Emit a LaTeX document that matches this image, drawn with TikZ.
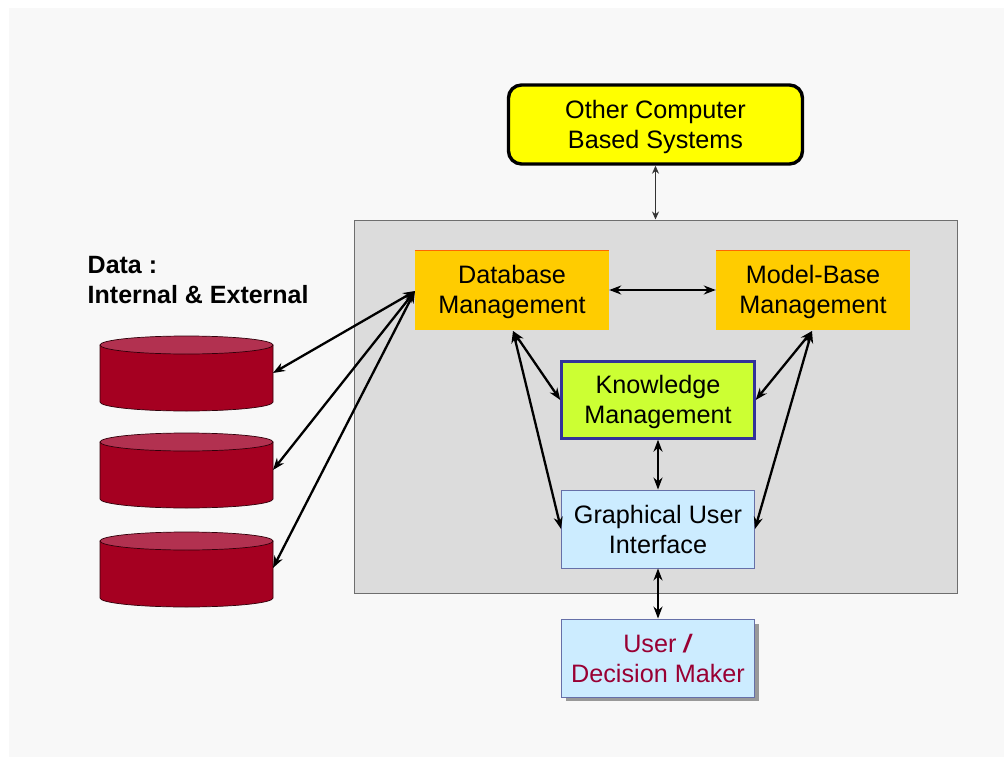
\documentclass[tikz,border=0pt]{standalone}
\usepackage{fontspec}
\setmainfont{Liberation Sans}
\usetikzlibrary{arrows.meta,shapes.geometric}
\definecolor{panel}{HTML}{F8F8F8}
\definecolor{inner}{HTML}{DCDCDC}
\definecolor{innerline}{HTML}{6E6E6E}
\definecolor{dbred}{HTML}{A50021}
\definecolor{dbtop}{HTML}{B23150}
\definecolor{orangebox}{HTML}{FFCC00}
\definecolor{limebox}{HTML}{CCFF33}
\definecolor{limeline}{HTML}{333399}
\definecolor{bluebox}{HTML}{CCECFF}
\definecolor{blueline}{HTML}{6670A8}
\definecolor{userred}{HTML}{990033}
\definecolor{yellowbox}{HTML}{FFFF00}
\newcommand{\topstrut}{\rule{0pt}{22.5pt}}
\tikzset{
  x=1pt,y=-1pt,
  lbl/.style={font=\fontsize{25.2}{30}\selectfont,align=center,text=black,inner sep=0pt},
  orangeb/.style={fill=orangebox,minimum width=194pt,minimum height=79pt,inner sep=0pt,draw=none},
  limeb/.style={fill=limebox,draw=limeline,line width=2.4pt,minimum width=193pt,minimum height=77pt,inner sep=0pt},
  blueb/.style={fill=bluebox,draw=blueline,line width=.9pt,minimum width=193pt,minimum height=78pt,inner sep=0pt},
  link/.style={{Stealth[length=12pt,width=9pt]}-{Stealth[length=12pt,width=9pt]},line width=2.3pt,black},
  thinlink/.style={{Stealth[length=8pt,width=7pt]}-{Stealth[length=8pt,width=7pt]},line width=.9pt,black!80},
  datatxt/.style={font=\fontsize{25}{30}\selectfont\bfseries,align=left,anchor=north west,inner sep=0pt},
}
\newcommand{\drum}[2]{% x of centre, y of top-ellipse centre
  \fill[dbred,draw=black!70!dbred,line width=.7pt] (#1-86.5,#2) -- (#1-86.5,#2+57)
     arc[start angle=180,end angle=0,x radius=86.5,y radius=9] -- (#1+86.5,#2) -- cycle;
  \fill[dbtop,draw=black!70!dbred,line width=.7pt] (#1,#2) ellipse[x radius=86.5,y radius=9];
}
\begin{document}
\begin{tikzpicture}
\useasboundingbox (0,0) rectangle (1004,757);
\fill[white] (0,0) rectangle (1004,757);
\fill[panel] (9,8) rectangle (1004,757);
\node[draw=innerline,fill=inner,line width=1pt,minimum width=603pt,minimum height=373pt,inner sep=0pt] (sys) at (655.5,406.5) {};
\node[fill=yellowbox,draw=black,line width=3.4pt,rounded corners=13pt,minimum width=294pt,minimum height=79pt,lbl] (other) at (655.5,124.5) {\topstrut Other Computer\\Based Systems};
\node[orangeb,lbl] (db) at (512,290) {\topstrut Database\\Management};
\draw[orange!80!red,line width=1pt] (db.north west) -- (db.north east);
\node[orangeb,lbl] (mb) at (813,290) {\topstrut Model-Base\\Management};
\draw[orange!80!red,line width=1pt] (mb.north west) -- (mb.north east);
\node[limeb,lbl] (km) at (658,400) {\topstrut Knowledge\\Management};
\node[blueb,lbl] (gui) at (658,529) {Graphical User\\Interface};
\fill[black!40] (566,624) rectangle (759,701);
\node[blueb,lbl,text=userred] (user) at (658,658) {User \textbf{\textit{/}}\\Decision Maker};
\node[datatxt] (data) at (87.5,256) {Data :\\Internal \& External};
\drum{186.5}{345}
\drum{186.5}{442}
\drum{186.5}{541}
\coordinate (d1) at (273,373);
\coordinate (d2) at (273,470);
\coordinate (d3) at (273,568);
\coordinate (dbw) at (415,291);
\coordinate (dbs1) at (513,331);
\coordinate (mbs1) at (812,331);
\draw[link] (dbw) -- (d1);
\draw[link] (dbw) -- (d2);
\draw[link] (dbw) -- (d3);
\draw[link] (db.east) -- (mb.west);
\draw[link] (dbs1) -- (km.west);
\draw[link] (dbs1) -- (gui.west);
\draw[link] (mbs1) -- (km.east);
\draw[link] (mbs1) -- (gui.east);
\draw[link] (km.south) -- (gui.north);
\draw[link] (gui.south) -- (user.north);
\draw[thinlink] (other.south) -- (sys.north);
\end{tikzpicture}
\end{document}
